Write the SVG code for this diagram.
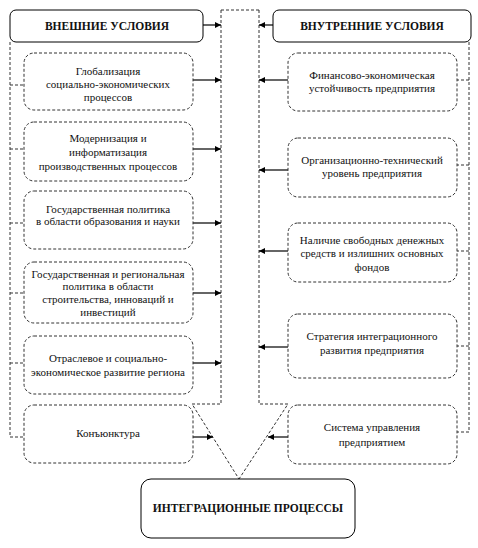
<svg xmlns="http://www.w3.org/2000/svg" width="478" height="548" viewBox="0 0 478 548" font-family="Liberation Serif, DejaVu Serif, serif">
<style>
.bg{fill:#fff}
.solid{fill:#fff;stroke:#000;stroke-width:1}
.dbox{fill:#fff;stroke:#333;stroke-width:1;stroke-dasharray:3,2}
.dl{fill:none;stroke:#333;stroke-width:1;stroke-dasharray:3,2}
.ar{fill:none;stroke:#000;stroke-width:1.2}
text{font-size:11px;fill:#111;text-anchor:middle}
.hd{font-weight:bold;font-size:11.5px}
</style>
<defs>
<marker id="ah" markerUnits="userSpaceOnUse" markerWidth="6" markerHeight="6" refX="6" refY="3" orient="auto">
<path d="M0,0 L6,3 L0,6 z" fill="#000"/>
</marker>
</defs>
<rect class="bg" x="0" y="0" width="478" height="548"/>
<g id="connectors">
<path class="dl" d="M221,10 H259"/>
<path class="dl" d="M221,10 V404 H192 L239,479"/>
<path class="dl" d="M259,10 V404 H288 L239,479"/>
<path class="dl" d="M10,42 V437 H24"/>
<path class="dl" d="M10,85 H24 M10,149 H24 M10,223 H24 M10,293 H24 M10,363 H24"/>
<path class="dl" d="M469,42 V432 H457"/>
<path class="dl" d="M469,80 H457 M469,165 H457 M469,251 H457 M469,346 H457"/>
<path class="ar" marker-end="url(#ah)" d="M203,25 H221"/>
<path class="ar" marker-end="url(#ah)" d="M273,25 H259"/>
<path class="ar" marker-end="url(#ah)" d="M193,80 H221"/>
<path class="ar" marker-end="url(#ah)" d="M193,149 H221"/>
<path class="ar" marker-end="url(#ah)" d="M193,223 H221"/>
<path class="ar" marker-end="url(#ah)" d="M193,293 H221"/>
<path class="ar" marker-end="url(#ah)" d="M193,363 H221"/>
<path class="ar" marker-end="url(#ah)" d="M193,437 H213"/>
<path class="ar" marker-end="url(#ah)" d="M288,80 H259"/>
<path class="ar" marker-end="url(#ah)" d="M288,170 H259"/>
<path class="ar" marker-end="url(#ah)" d="M288,251 H259"/>
<path class="ar" marker-end="url(#ah)" d="M288,347 H259"/>
<path class="ar" marker-end="url(#ah)" d="M288,437 H268"/>
</g>
<g id="ext-header">
<rect class="solid" x="10" y="10" width="193" height="32" rx="6"/>
<text class="hd" x="107" y="30">ВНЕШНИЕ УСЛОВИЯ</text>
</g>
<g id="int-header">
<rect class="solid" x="273" y="10" width="198" height="32" rx="6"/>
<text class="hd" x="372" y="30">ВНУТРЕННИЕ УСЛОВИЯ</text>
</g>
<g id="ext1">
<rect class="dbox" x="24" y="53" width="169" height="57" rx="10"/>
<text x="108" y="75">Глобализация</text>
<text x="108" y="88">социально-экономических</text>
<text x="108" y="101">процессов</text>
</g>
<g id="ext2">
<rect class="dbox" x="24" y="122" width="169" height="59" rx="10"/>
<text x="108" y="142">Модернизация и</text>
<text x="108" y="156">информатизация</text>
<text x="108" y="170">производственных процессов</text>
</g>
<g id="ext3">
<rect class="dbox" x="24" y="191" width="169" height="58" rx="10"/>
<text x="108" y="213">Государственная политика</text>
<text x="108" y="225">в области образования и науки</text>
</g>
<g id="ext4">
<rect class="dbox" x="24" y="262" width="169" height="61" rx="10"/>
<text x="108" y="278">Государственная и региональная</text>
<text x="108" y="290">политика в области</text>
<text x="108" y="303">строительства, инноваций и</text>
<text x="108" y="316">инвестиций</text>
</g>
<g id="ext5">
<rect class="dbox" x="24" y="336" width="169" height="58" rx="10"/>
<text x="108" y="362">Отраслевое и социально-</text>
<text x="108" y="376">экономическое развитие региона</text>
</g>
<g id="ext6">
<rect class="dbox" x="24" y="405" width="169" height="58" rx="10"/>
<text x="108" y="437">Конъюнктура</text>
</g>
<g id="int1">
<rect class="dbox" x="288" y="53" width="169" height="58" rx="10"/>
<text x="372" y="79">Финансово-экономическая</text>
<text x="372" y="92">устойчивость предприятия</text>
</g>
<g id="int2">
<rect class="dbox" x="288" y="138" width="169" height="59" rx="10"/>
<text x="372" y="164">Организационно-технический</text>
<text x="372" y="177">уровень предприятия</text>
</g>
<g id="int3">
<rect class="dbox" x="288" y="223" width="169" height="59" rx="10"/>
<text x="372" y="244">Наличие свободных денежных</text>
<text x="372" y="257">средств и излишних основных</text>
<text x="372" y="271">фондов</text>
</g>
<g id="int4">
<rect class="dbox" x="288" y="314" width="169" height="64" rx="10"/>
<text x="372" y="340">Стратегия интеграционного</text>
<text x="372" y="354">развития предприятия</text>
</g>
<g id="int5">
<rect class="dbox" x="288" y="405" width="169" height="59" rx="10"/>
<text x="372" y="431">Система управления</text>
<text x="372" y="446">предприятием</text>
</g>
<g id="result">
<rect class="solid" x="141" y="479" width="214" height="59" rx="10"/>
<text class="hd" x="248" y="512">ИНТЕГРАЦИОННЫЕ ПРОЦЕССЫ</text>
</g>
</svg>
